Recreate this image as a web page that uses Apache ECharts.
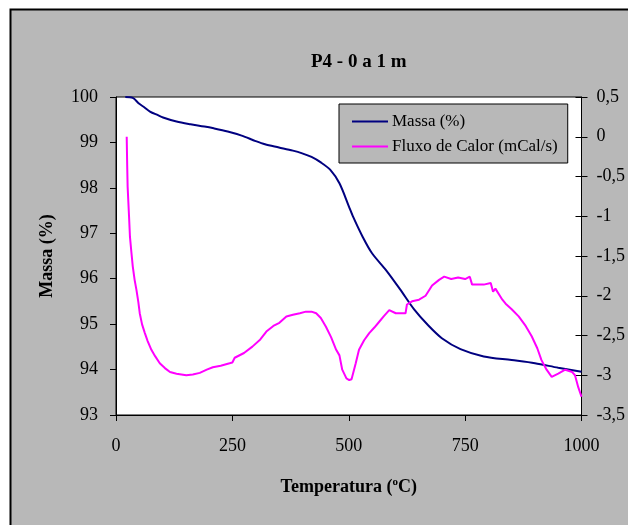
<!DOCTYPE html>
<html>
<head>
<meta charset="utf-8">
<script src="https://cdn.jsdelivr.net/npm/echarts@6/dist/echarts.min.js"></script>
<style>
html,body{margin:0;padding:0;background:#fff;}
#c{width:628px;height:525px;}
</style>
</head>
<body>
<div id="c"></div>
<script>
// Data
var chartTitle = 'P4 - 0 a 1 m';
var seriesNames = ['Massa (%)', 'Fluxo de Calor (mCal/s)'];
var xTicks = [0, 250, 500, 750, 1000];

var massaTemp = [20, 36, 50, 60, 73, 90, 101, 130, 160, 190, 210, 240, 270, 300, 320, 350, 380, 400, 420, 440, 460, 480, 500, 510, 530, 550, 580, 610, 640, 670, 700, 740, 790, 850, 900, 950, 1000];
var massaVal  = [100.0, 99.98, 99.85, 99.78, 99.68, 99.6, 99.55, 99.46, 99.40, 99.35, 99.31, 99.24, 99.15, 99.03, 98.96, 98.89, 98.82, 98.76, 98.68, 98.56, 98.40, 98.10, 97.6, 97.35, 96.92, 96.56, 96.19, 95.77, 95.33, 94.98, 94.69, 94.45, 94.29, 94.21, 94.14, 94.04, 93.95];

var fluxoTemp = [23, 24, 25, 28, 30, 33, 36, 40, 44, 48, 51, 56, 62, 68, 76, 84, 94, 105, 116, 130, 151, 165, 180, 195, 208, 225, 244, 250, 255, 275, 293, 310, 323, 338, 351, 366, 380, 395, 408, 420, 430, 440, 451, 462, 473, 480, 486, 495, 501, 506, 515, 522, 533, 544, 555, 565, 575, 587, 601, 622, 625, 636, 651, 665, 679, 694, 705, 720, 735, 750, 760, 765, 790, 805, 810, 815, 830, 837, 850, 865, 880, 893, 905, 914, 925, 936, 950, 965, 980, 986, 993, 1000];
var fluxoVal  = [0.0, -0.35, -0.63, -1.0, -1.26, -1.45, -1.63, -1.8, -1.93, -2.08, -2.22, -2.36, -2.47, -2.57, -2.68, -2.76, -2.85, -2.91, -2.96, -2.98, -3.0, -2.99, -2.97, -2.93, -2.90, -2.88, -2.85, -2.84, -2.78, -2.72, -2.64, -2.55, -2.45, -2.38, -2.34, -2.26, -2.24, -2.22, -2.20, -2.20, -2.22, -2.28, -2.39, -2.52, -2.68, -2.75, -2.93, -3.04, -3.06, -3.05, -2.85, -2.68, -2.56, -2.47, -2.40, -2.33, -2.26, -2.18, -2.22, -2.22, -2.11, -2.07, -2.05, -2.0, -1.87, -1.80, -1.76, -1.79, -1.77, -1.79, -1.76, -1.86, -1.86, -1.84, -1.95, -1.91, -2.05, -2.10, -2.17, -2.26, -2.38, -2.51, -2.66, -2.81, -2.93, -3.02, -2.98, -2.93, -2.96, -3.0, -3.15, -3.27];

function pairs(xs, ys){ return xs.map(function(x,i){ return [x, ys[i]]; }); }

var FONT = '"Liberation Serif", "Times New Roman", serif';
var chart = echarts.init(document.getElementById('c'), null, {renderer:'canvas'});
chart.setOption({
  animation: false,
  backgroundColor: '#ffffff',
  graphic: [{
    type: 'rect', z: -10, silent: true,
    shape: {x: 10.5, y: 9.5, width: 640, height: 540},
    style: {fill: '#b8b8b8', stroke: '#000', lineWidth: 2}
  }],
  title: {
    text: chartTitle, left: 306, top: 48,
    textStyle: {fontFamily: FONT, fontSize: 19, fontWeight: 'bold', color: '#000'}
  },
  legend: {
    orient: 'vertical', left: 339, top: 104,
    backgroundColor: '#b8b8b8', borderColor: '#000', borderWidth: 1,
    padding: [9, 10, 8, 13], itemGap: 8,
    icon: 'rect', itemWidth: 36, itemHeight: 2,
    textStyle: {fontFamily: FONT, fontSize: 17, color: '#000', padding: [0,0,0,-1]},
    data: seriesNames
  },
  grid: {left: 116, right: 45, top: 97, bottom: 110, show: true, backgroundColor: '#fff', borderColor: '#000', borderWidth: 1},
  xAxis: {
    type: 'value', min: 0, max: 1000, interval: 250,
    name: 'Temperatura ({sup|o}C)', nameLocation: 'middle', nameGap: 62,
    nameTextStyle: {fontFamily: FONT, fontSize: 18, fontWeight: 'bold', color: '#000',
      rich: {sup: {fontFamily: FONT, fontSize: 11, fontWeight: 'bold', color: '#000', verticalAlign: 'top', padding: [0,0,9,0]}}},
    axisLine: {show: true, onZero: false, lineStyle: {color: '#000', width: 1}},
    axisTick: {show: true, length: 6, lineStyle: {color: '#000'}},
    axisLabel: {fontFamily: FONT, fontSize: 18, color: '#000', margin: 22,
      formatter: function(v){ return String(v); }},
    splitLine: {show: false}
  },
  yAxis: [{
    type: 'value', min: 93, max: 100, interval: 1, position: 'left',
    name: 'Massa (%)', nameLocation: 'middle', nameGap: 60,
    nameTextStyle: {fontFamily: FONT, fontSize: 18, fontWeight: 'bold', color: '#000'},
    axisLine: {show: true, onZero: false, lineStyle: {color: '#000', width: 1}},
    axisTick: {show: true, length: 6, lineStyle: {color: '#000'}},
    axisLabel: {fontFamily: FONT, fontSize: 18, color: '#000', margin: 18},
    splitLine: {show: false}
  }, {
    type: 'value', min: -3.5, max: 0.5, interval: 0.5, position: 'right',
    axisLine: {show: true, onZero: false, lineStyle: {color: '#000', width: 1}},
    axisTick: {show: true, length: 6, lineStyle: {color: '#000'}},
    axisLabel: {fontFamily: FONT, fontSize: 18, color: '#000', margin: 15,
      formatter: function(v){ return String(Math.round(v*10)/10).replace('.', ','); }},
    splitLine: {show: false}
  }, {
    type: 'value', min: -3.5, max: 0.5, interval: 0.5, position: 'right',
    axisLine: {show: false, onZero: false},
    axisTick: {show: true, inside: true, length: 6, lineStyle: {color: '#000'}},
    axisLabel: {show: false},
    splitLine: {show: false}
  }],
  series: [{
    name: seriesNames[0], type: 'line', yAxisIndex: 0, showSymbol: false, smooth: 0.3,
    color: '#000080', lineStyle: {color: '#000080', width: 2},
    data: pairs(massaTemp, massaVal)
  }, {
    name: seriesNames[1], type: 'line', yAxisIndex: 1, showSymbol: false,
    color: '#ff00ff', lineStyle: {color: '#ff00ff', width: 2},
    data: pairs(fluxoTemp, fluxoVal)
  }]
});
</script>
</body>
</html>
